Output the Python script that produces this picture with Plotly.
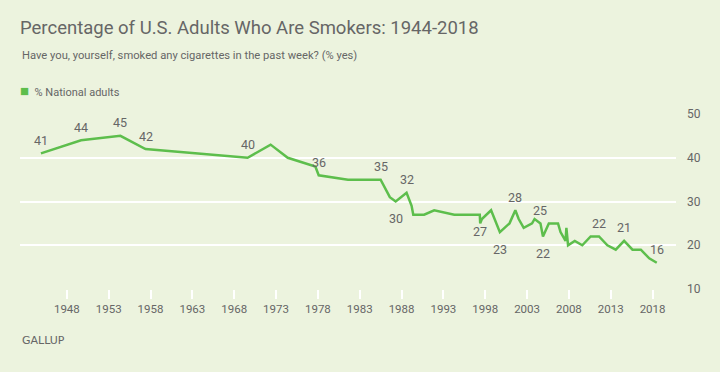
import plotly.graph_objects as go

# ---- data ----
years = [1944.9, 1949.7, 1954.4, 1957.4, 1969.6, 1972.35, 1974.4, 1977.7, 1978.1,
         1981.6, 1985.5, 1986.6, 1987.3, 1988.6, 1989.2, 1989.4, 1990.7, 1991.9,
         1994.3, 1997.35, 1997.4, 1997.6, 1998.7, 1999.75, 2000.9, 2001.6, 2002.0,
         2002.6, 2003.6, 2003.9, 2004.6, 2004.9, 2005.6, 2006.7, 2007.0, 2007.6,
         2007.7, 2007.9, 2008.7, 2009.6, 2010.6, 2011.6, 2012.6, 2013.6, 2014.6,
         2015.6, 2016.6, 2017.6, 2018.5]
values = [41, 44, 45, 42, 40, 43, 40, 38, 36,
          35, 35, 31, 30, 32, 29, 27, 27, 28,
          27, 27, 25, 26, 28, 23, 25, 28, 26,
          24, 25, 26, 25, 22, 25, 25, 23, 21,
          24, 20, 21, 20, 22, 22, 20, 19, 21,
          19, 19, 17, 16]

# labelled points: index into the series, and whether label sits above or below
label_index = [0, 1, 2, 3, 4, 8, 10, 13, 12, 19, 23, 25, 30, 31, 41, 44, 48]
label_above = [True, True, True, True, True, True, True, True, False, False, False,
               True, True, False, True, True, True]

x_ticks = list(range(1948, 2019, 5))
y_ticks = [10, 20, 30, 40, 50]

series_name = "% National adults"
title = "Percentage of U.S. Adults Who Are Smokers: 1944-2018"
subtitle = "Have you, yourself, smoked any cigarettes in the past week? (% yes)"
source = "GALLUP"

# ---- style ----
BG = "#ECF3DE"
GREEN = "#5DBE4C"
GRAY = "#666666"
FONT = "Roboto"

fig = go.Figure()
fig.add_trace(go.Scatter(x=years, y=values, mode="lines", name=series_name,
                         line=dict(color=GREEN, width=2.5),
                         showlegend=False, hoverinfo="x+y"))

annotations = []
for i, above in zip(label_index, label_above):
    annotations.append(dict(x=years[i], y=values[i], xref="x", yref="y",
                            text=str(values[i]), showarrow=False,
                            yshift=13 if above else -17,
                            font=dict(family=FONT, size=12.5, color=GRAY)))

annotations.append(dict(x=0, y=1.337, xref="paper", yref="paper", xanchor="left",
                        yanchor="middle", text=subtitle, showarrow=False,
                        font=dict(family=FONT, size=11.2, color=GRAY)))
# legend key
annotations.append(dict(x=-0.003, y=1.134, xref="paper", yref="paper", xanchor="left",
                        yanchor="middle",
                        text=f'<span style="color:{GREEN};font-size:15px">■</span>  {series_name}',
                        showarrow=False,
                        font=dict(family=FONT, size=11, color=GRAY)))
annotations.append(dict(x=0, y=-0.297, xref="paper", yref="paper", xanchor="left",
                        yanchor="middle", text=source, showarrow=False,
                        font=dict(family="DejaVu Sans", size=11, color=GRAY)))

fig.update_layout(
    width=720, height=372,
    margin=dict(l=20, r=44, t=114, b=83),
    paper_bgcolor=BG, plot_bgcolor=BG,
    showlegend=False,
    title=dict(text=title, x=20 / 720, xanchor="left", xref="container",
               y=1 - 28 / 372, yanchor="middle", yref="container",
               font=dict(family=FONT, size=18.5, color=GRAY)),
    annotations=annotations,
    xaxis=dict(range=[1942.4, 2020.8], tickmode="array", tickvals=x_ticks,
               ticktext=[str(t) for t in x_ticks], showgrid=False, zeroline=False,
               showline=False, ticks="outside", ticklen=9, tickwidth=2,
               tickcolor="white", tickfont=dict(family=FONT, size=11.5, color=GRAY)),
    yaxis=dict(range=[10, 50], side="right", tickmode="array", tickvals=y_ticks,
               showgrid=True, gridcolor="white", gridwidth=2, zeroline=False,
               showline=False, ticks="", ticklabelstandoff=10,
               tickfont=dict(family=FONT, size=12, color=GRAY)),
)

fig.write_html("out.html", config={"displayModeBar": False},
               post_script="document.body.style.margin='0';")
